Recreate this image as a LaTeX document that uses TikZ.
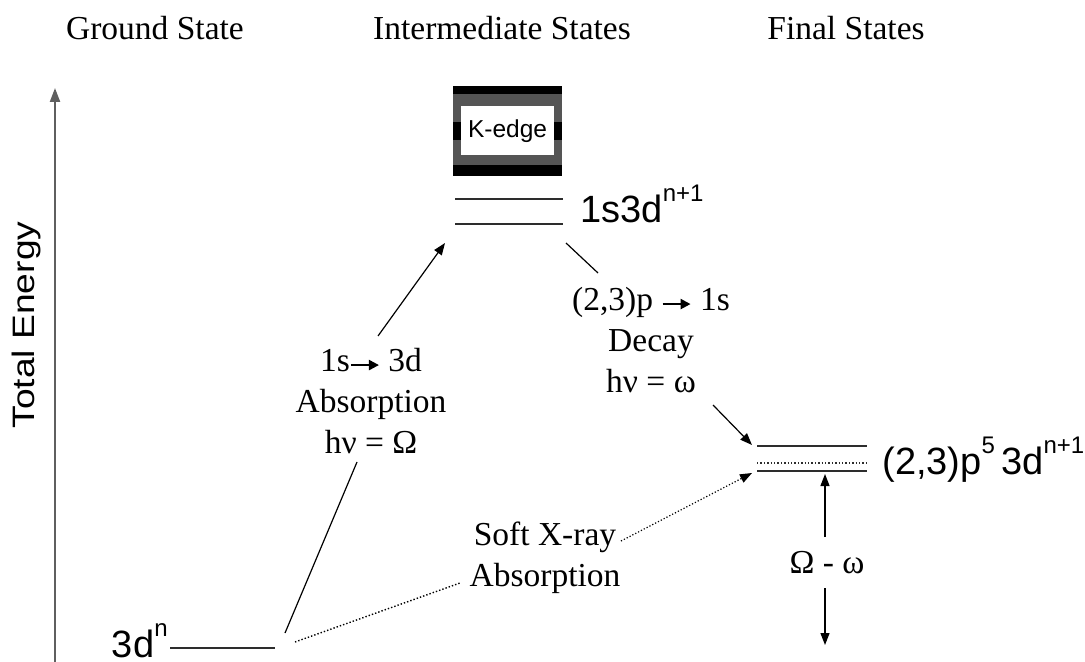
\documentclass[tikz,border=0pt]{standalone}
\usepackage{fontspec}
\setmainfont{Liberation Serif}
\newfontfamily\arialf{Liberation Sans}
\usetikzlibrary{arrows.meta,positioning,calc}
\definecolor{lvlgray}{RGB}{45,45,45}
\definecolor{axgray}{RGB}{95,95,95}
\definecolor{kgray}{RGB}{85,85,85}
\newcommand{\sups}[1]{\raisebox{10.5pt}{\fontsize{12}{12}\selectfont #1}}
\newcommand{\harr}{\tikz[baseline=-3.2pt]\draw[-{Triangle[length=5pt,width=5pt]}, line width=1.1pt] (0pt,0pt) -- (14pt,0pt);}
\tikzset{
  ttl/.style={font=\fontsize{16.75}{20}\selectfont, anchor=base, inner sep=0pt},
  txt/.style={font=\fontsize{16.75}{20.5}\selectfont, align=center, inner sep=0pt, fill=white},
  big/.style={font=\arialf\fontsize{19}{19}\selectfont, inner sep=0pt, anchor=base west},
  lvl/.style={lvlgray, line width=0.8pt},
  lvldot/.style={lvlgray, line width=0.7pt, densely dotted},
  arr/.style={-{Triangle[length=6pt,width=4.5pt]}, line width=0.6pt},
  dotarr/.style={arr, densely dotted},
  kouter/.style={minimum width=54.5pt, minimum height=45pt, inner sep=0pt, fill=kgray},
  kinner/.style={fill=white, minimum width=46.5pt, minimum height=24.5pt, inner sep=0pt,
                 font=\arialf\fontsize{12.25}{12.25}\selectfont},
}

\begin{document}
\begin{tikzpicture}[x=0.5pt, y=-0.5pt]
  \useasboundingbox (0,0) rectangle (1085,662);
  % column titles
  \node[ttl] (tground) at (155,40) {Ground State};
  \node[ttl] (tinter) at (502,40) {Intermediate States};
  \node[ttl] (tfinal) at (846,40) {Final States};
  % energy axis
  \coordinate (ax0) at (55,662);
  \coordinate (ax1) at (55,88);
  \draw[axgray, line width=1.1pt, -{Triangle[length=7pt,width=5pt]}] (ax0) -- (ax1);
  \node[rotate=90, inner sep=0pt, font=\arialf\fontsize{15.5}{15.5}\selectfont] (etot) at (26,325)
       {\scalebox{1.2}[1]{Total Energy}};
  % ground state
  \coordinate (g0) at (170,648);
  \coordinate (g1) at (275,648);
  \draw[lvl] (g0) -- (g1);
  \node[big, anchor=base east] (lgs) at ($(g0)+(-2,9)$) {3d\sups{n}};
  % intermediate states
  \node[kouter] (kbox) at (507.5,131) {};
  \fill[black] (kbox.north west) rectangle ($(kbox.north east)+(0,8)$);
  \fill[black] ($(kbox.south west)+(0,-11)$) rectangle (kbox.south east);
  \fill[black] ($(kbox.west)+(0,-9)$) rectangle ($(kbox.west)+(9,9)$);
  \fill[black] ($(kbox.east)+(-9,-9)$) rectangle ($(kbox.east)+(0,9)$);
  \node[kinner] (kedge) at (kbox.center) {K-edge};
  \coordinate (i0) at (455,199);
  \coordinate (i1) at (563,199);
  \coordinate (j0) at (455,224);
  \coordinate (j1) at (563,224);
  \draw[lvl] (i0) -- (i1);
  \draw[lvl] (j0) -- (j1);
  \node[big] (lint) at (580,223) {1s3d\sups{n+1}};
  % final states
  \coordinate (f0) at (757,446);
  \coordinate (f1) at (867,446);
  \coordinate (h0) at (757,463);
  \coordinate (h1) at (867,463);
  \coordinate (k0) at (757,471);
  \coordinate (k1) at (867,471);
  \draw[lvl] (f0) -- (f1);
  \draw[lvldot] (h0) -- (h1);
  \draw[lvl] (k0) -- (k1);
  \node[big] (lfin) at (882,474) {(2,3)p\sups{5}\,3d\sups{n+1}};
  % transition labels
  \node[txt] (abs) at (371,401) {1s\harr\ 3d\\Absorption\\hν = Ω};
  \node[txt] (dec) at (651,340) {(2,3)p \harr\ 1s\\Decay\\hν = ω};
  \node[txt] (soft) at (545,558) {Soft X-ray\\Absorption};
  \node[txt] (loss) at (827,563) {Ω - ω};
  % transitions
  \coordinate (a0) at (285,633);
  \coordinate (a1) at (357,462);
  \coordinate (a2) at (378,336);
  \coordinate (a3) at (445,243);
  \draw[line width=0.6pt] (a0) -- (a1);
  \draw[arr] (a2) -- (a3);
  \coordinate (d0) at (566,243);
  \coordinate (d1) at (598,273);
  \coordinate (d2) at (713,405);
  \coordinate (d3) at (752,445);
  \draw[line width=0.6pt] (d0) -- (d1);
  \draw[arr] (d2) -- (d3);
  \coordinate (s0) at (295,642);
  \coordinate (s1) at (460,583);
  \coordinate (s2) at (621,541);
  \coordinate (s3) at (752,473);
  \draw[line width=0.7pt, densely dotted] (s0) -- (s1);
  \draw[dotarr] (s2) -- (s3);
  \coordinate (w0) at (825,537);
  \coordinate (w1) at (825,474);
  \coordinate (w2) at (825,588);
  \coordinate (w3) at (825,645);
  \draw[arr] (w0) -- (w1);
  \draw[arr] (w2) -- (w3);
\end{tikzpicture}
\end{document}
